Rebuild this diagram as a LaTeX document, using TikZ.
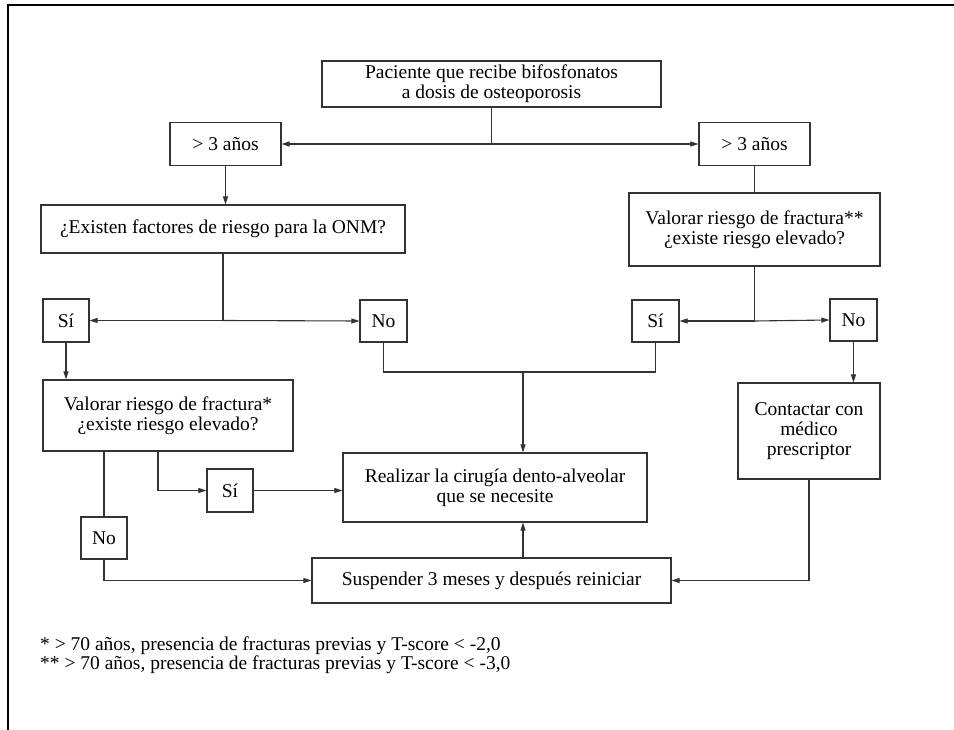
\documentclass[tikz,border=0pt]{standalone}
\usepackage{fontspec}
\setmainfont{Liberation Serif}
\usetikzlibrary{arrows.meta}

\tikzset{
  box/.style={draw=black!80, line width=1.2pt, align=center, inner sep=0pt,
    font=\fontsize{19.5}{20}\selectfont},
  link/.style={draw=black!80, line width=1.1pt},
  arr/.style={link, -{Triangle[length=8pt, width=5pt]}}
}

\begin{document}
\begin{tikzpicture}[x=1pt, y=-1pt]
\useasboundingbox (0,0) rectangle (954,730);
\draw[line width=2.5pt] (954,5) -- (8,5) -- (8,730);

\node[box, minimum width=339pt, minimum height=46pt] (pac) at (491.5,84)
  {Paciente que recibe bifosfonatos\\a dosis de osteoporosis};
\node[box, minimum width=111pt, minimum height=43pt] (a3l) at (225.5,144) {> 3 años};
\node[box, minimum width=111pt, minimum height=43pt] (a3r) at (754.5,144) {> 3 años};
\node[box, minimum width=364pt, minimum height=48pt] (onm) at (223,229)
  {¿Existen factores de riesgo para la ONM?};
\node[box, minimum width=251pt, minimum height=73pt] (fr2) at (754.5,229.5)
  {Valorar riesgo de fractura**\\¿existe riesgo elevado?};
\node[box, minimum width=46pt, minimum height=43pt] (si1) at (66,320.5) {Sí};
\node[box, minimum width=47pt, minimum height=42pt] (no1) at (383.5,321) {No};
\node[box, minimum width=47pt, minimum height=42pt] (si2) at (655.5,321) {Sí};
\node[box, minimum width=47pt, minimum height=42pt] (no2) at (853.5,320) {No};
\node[box, minimum width=250pt, minimum height=71pt] (fr1) at (168,415.5)
  {Valorar riesgo de fractura*\\¿existe riesgo elevado?};
\node[box, minimum width=46pt, minimum height=43pt] (si3) at (230,490.5) {Sí};
\node[box, minimum width=46pt, minimum height=42pt] (no3) at (104,538) {No};
\node[box, minimum width=304pt, minimum height=69pt] (rea) at (495,487.5)
  {Realizar la cirugía dento-alveolar\\que se necesite};
\node[box, minimum width=359pt, minimum height=45pt] (sus) at (491.5,580.5)
  {Suspender 3 meses y después reiniciar};
\node[box, minimum width=142pt, minimum height=96pt] (con) at (809,431)
  {Contactar con\\médico\\prescriptor};

\node[anchor=west, align=left, inner sep=0pt, font=\fontsize{19.5}{15}\selectfont] (notes) at (40,655)
  {* > 70 años, presencia de fracturas previas y T-score < -2,0\\
   ** > 70 años, presencia de fracturas previas y T-score < -3,0};

% junctions
\coordinate (j0) at (pac.south |- a3l);
\coordinate (j1) at (onm.south |- si1);
\coordinate (j2) at (fr2.south |- si2);
\coordinate (j3) at (523,372);

\draw[link] (pac.south) -- (j0);
\draw[arr] (j0) -- (a3l.east);
\draw[arr] (j0) -- (a3r.west);
\draw[arr] (a3l.south) -- (a3l.south |- onm.north);
\draw[link] (a3r.south) -- (fr2.north);

\draw[link] (onm.south) -- (j1);
\draw[arr] (j1) -- (si1.east);
\draw[arr] (j1) -- (no1.west);
\draw[link] (fr2.south) -- (j2);
\draw[arr] (j2) -- (si2.east);
\draw[arr] (j2) -- (no2.west);

\draw[arr] (si1.south) -- (si1.south |- fr1.north);
\draw[link] (fr1.south -| no3) -- (no3.north);
\draw[arr] (no3.south) |- (sus.west);
\draw[arr] ([xshift=-10pt]fr1.south) |- (si3.west);
\draw[arr] (si3.east) -- (si3.east -| rea.west);

\draw[link] (no1.south) |- (j3) -| (si2.south);
\draw[arr] (j3) -- (j3 |- rea.north);
\draw[arr] (sus.north -| j3) -- (j3 |- rea.south);

\draw[arr] (no2.south) -- (no2.south |- con.north);
\draw[arr] (con.south) |- (sus.east);
\end{tikzpicture}
\end{document}
